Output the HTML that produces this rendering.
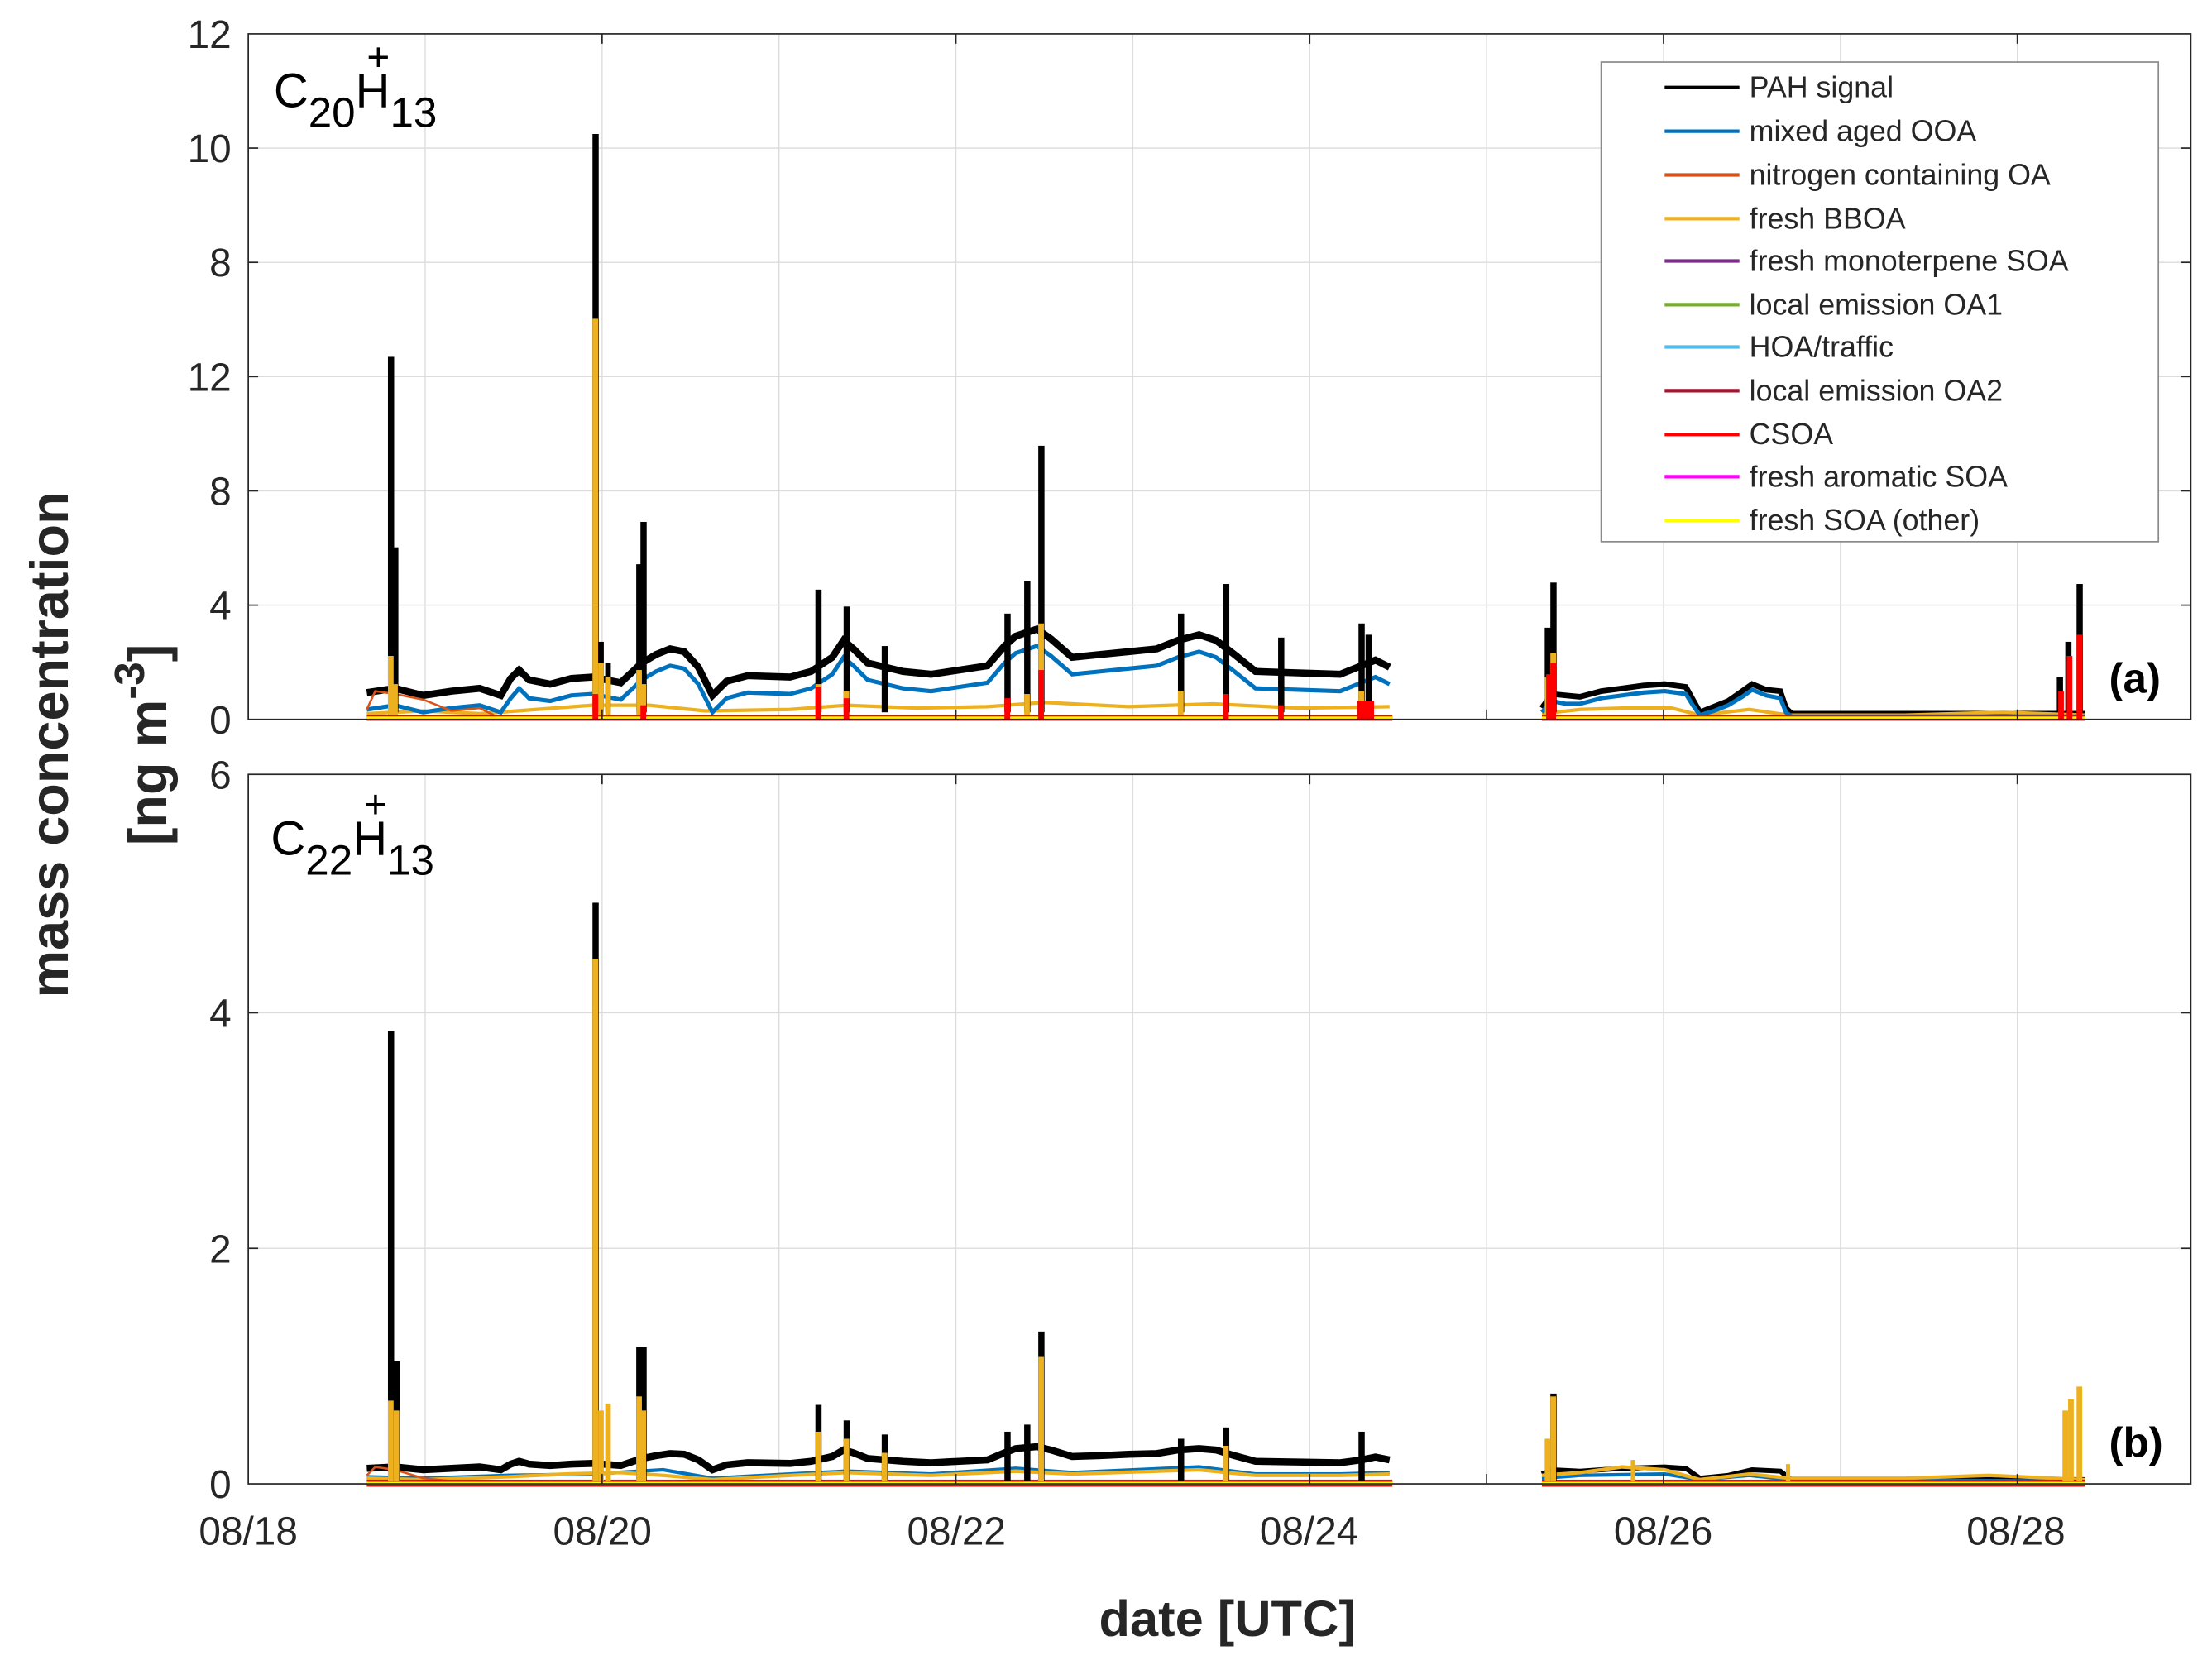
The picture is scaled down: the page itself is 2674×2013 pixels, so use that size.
<!DOCTYPE html>
<html><head><meta charset="utf-8"><style>
html,body{margin:0;padding:0;background:#fff;}
svg{display:block;font-family:"Liberation Sans",Arial,sans-serif;}
</style></head><body>
<svg width="2674" height="2013" viewBox="0 0 1568 1180.4" xmlns="http://www.w3.org/2000/svg">
<rect width="1568" height="1180.4" fill="#fff"/>
<g stroke="#dcdcdc" stroke-width="0.8">
<line x1="301.4" y1="24" x2="301.4" y2="510"/><line x1="426.8" y1="24" x2="426.8" y2="510"/><line x1="552.2" y1="24" x2="552.2" y2="510"/><line x1="677.6" y1="24" x2="677.6" y2="510"/><line x1="803" y1="24" x2="803" y2="510"/><line x1="928.4" y1="24" x2="928.4" y2="510"/><line x1="1053.8" y1="24" x2="1053.8" y2="510"/><line x1="1179.2" y1="24" x2="1179.2" y2="510"/><line x1="1304.6" y1="24" x2="1304.6" y2="510"/><line x1="1430" y1="24" x2="1430" y2="510"/>
<line x1="301.4" y1="549" x2="301.4" y2="1052"/><line x1="426.8" y1="549" x2="426.8" y2="1052"/><line x1="552.2" y1="549" x2="552.2" y2="1052"/><line x1="677.6" y1="549" x2="677.6" y2="1052"/><line x1="803" y1="549" x2="803" y2="1052"/><line x1="928.4" y1="549" x2="928.4" y2="1052"/><line x1="1053.8" y1="549" x2="1053.8" y2="1052"/><line x1="1179.2" y1="549" x2="1179.2" y2="1052"/><line x1="1304.6" y1="549" x2="1304.6" y2="1052"/><line x1="1430" y1="549" x2="1430" y2="1052"/>
<line x1="176" y1="105" x2="1553" y2="105"/><line x1="176" y1="186" x2="1553" y2="186"/><line x1="176" y1="267" x2="1553" y2="267"/><line x1="176" y1="348" x2="1553" y2="348"/><line x1="176" y1="429" x2="1553" y2="429"/>
<line x1="176" y1="718" x2="1553" y2="718"/><line x1="176" y1="885" x2="1553" y2="885"/>
</g>
<!-- data top -->
<g fill="none" stroke-linejoin="miter">
<path d="M260,491 L280,488 L300,493 L320,490 L340,488 L355,493 L362,481 L368,475 L375,482 L390,485 L405,481 L420,480 L440,484 L455,470 L465,464 L475,460 L485,462 L495,473 L505,493 L515,483 L530,479 L560,480 L575,476 L590,466 L598,454 L605,460 L615,470 L640,476 L660,478 L680,475 L700,472 L712,458 L720,451 L735,446 L745,453 L760,466 L780,464 L800,462 L820,460 L835,454 L850,450 L862,454 L875,464 L890,476 L920,477 L950,478 L965,472 L975,468 L985,473" stroke="#000" stroke-width="5"/>
<path d="M1093,502 L1100,492 L1120,494 L1135,490 L1150,488 L1165,486 L1180,485 L1195,487 L1200,496 L1205,505 L1225,497 L1235,490 L1242,485 L1252,489 L1262,490 L1266,502 L1270,506 L1478,506" stroke="#000" stroke-width="4"/>
<path d="M260,506 L300,504 L340,506 L380,503 L420,500 L460,500 L500,504 L560,503 L600,500 L650,502 L700,501 L740,498 L800,501 L860,499 L920,502 L985,501" stroke="#EDB120" stroke-width="2.5"/>
<path d="M1093,506 L1120,503 L1150,502 L1185,502 L1205,507 L1240,503 L1268,507 L1350,507 L1420,505 L1478,507" stroke="#EDB120" stroke-width="2.5"/>
<path d="M260,503 L280,500 L300,505 L320,502 L340,500 L355,505 L362,495 L368,488 L375,495 L390,497 L405,493 L420,492 L440,496 L455,482 L465,476 L475,472 L485,474 L495,485 L505,505 L515,495 L530,491 L560,492 L575,488 L590,478 L598,466 L605,472 L615,482 L640,488 L660,490 L680,487 L700,484 L712,470 L720,463 L735,458 L745,465 L760,478 L780,476 L800,474 L820,472 L835,466 L850,462 L862,466 L875,476 L890,488 L920,489 L950,490 L965,484 L975,480 L985,485" stroke="#0072BD" stroke-width="3"/>
<path d="M1093,505 L1100,497 L1110,499 L1120,499 L1135,495 L1150,493 L1165,491 L1180,490 L1195,492 L1200,500 L1205,507 L1215,504 L1225,500 L1235,494 L1242,489 L1252,493 L1262,495 L1266,505 L1270,508 L1478,508" stroke="#0072BD" stroke-width="3"/>
<path d="M260,503 L266,490 L280,492 L300,496 L320,504 L340,502 L350,507" stroke="#D95319" stroke-width="1.5"/>
</g>
<rect x="260" y="507" width="727" height="4" fill="#FF0000"/><rect x="1093" y="507" width="385" height="4" fill="#FF0000"/>
<rect x="260" y="508" width="727" height="2" fill="#FFFF00"/><rect x="1093" y="508" width="385" height="2" fill="#FFFF00"/>
<!-- top spikes black -->
<g fill="#000">
<rect x="275" y="253" width="4.4" height="252"/><rect x="278" y="388" width="4.4" height="117"/>
<rect x="420" y="95" width="4.4" height="410"/><rect x="424" y="455" width="4" height="50"/><rect x="429" y="470" width="4" height="35"/>
<rect x="451" y="400" width="4.4" height="105"/><rect x="454" y="370" width="4.4" height="135"/>
<rect x="578" y="418" width="4.4" height="87"/><rect x="598" y="430" width="4.4" height="75"/><rect x="625" y="458" width="4.4" height="47"/>
<rect x="712" y="435" width="4.4" height="70"/><rect x="726" y="412" width="4.4" height="93"/><rect x="736" y="316" width="4.4" height="189"/>
<rect x="835" y="435" width="4.4" height="70"/><rect x="867" y="414" width="4.4" height="91"/><rect x="906" y="452" width="4.4" height="53"/>
<rect x="963" y="442" width="4.4" height="63"/><rect x="968" y="450" width="4.4" height="55"/>
<rect x="1095" y="445" width="4.4" height="60"/><rect x="1099" y="413" width="4.4" height="92"/>
<rect x="1458" y="480" width="4.4" height="25"/><rect x="1464" y="455" width="4.4" height="50"/><rect x="1472" y="414" width="4.4" height="91"/>
</g>
<g fill="#EDB120">
<rect x="275" y="465" width="4" height="42"/><rect x="278" y="485" width="4" height="22"/>
<rect x="420" y="226" width="4" height="281"/><rect x="424" y="470" width="4" height="37"/><rect x="429" y="480" width="4" height="27"/>
<rect x="451" y="475" width="4" height="32"/><rect x="454" y="485" width="4" height="22"/>
<rect x="578" y="485" width="4" height="22"/><rect x="598" y="490" width="4" height="17"/>
<rect x="736" y="442" width="4" height="65"/><rect x="726" y="492" width="4" height="15"/>
<rect x="835" y="490" width="4" height="17"/><rect x="963" y="490" width="4" height="17"/>
<rect x="1099" y="463" width="4" height="44"/><rect x="1095" y="480" width="4" height="27"/>
</g>
<g fill="#FF0000">
<rect x="420" y="492" width="4" height="18"/><rect x="454" y="500" width="4" height="10"/><rect x="578" y="487" width="4" height="23"/><rect x="598" y="495" width="4" height="15"/>
<rect x="712" y="495" width="4" height="15"/><rect x="736" y="475" width="4" height="35"/><rect x="867" y="492" width="4" height="18"/><rect x="906" y="500" width="4" height="10"/>
<rect x="962" y="497" width="12" height="13"/><rect x="1096" y="478" width="4" height="32"/><rect x="1099" y="470" width="4" height="40"/>
<rect x="1459" y="490" width="4" height="20"/><rect x="1465" y="465" width="4" height="45"/><rect x="1472" y="450" width="4" height="60"/>
</g>
<!-- bottom data -->
<g fill="none">
<path d="M260,1041 L280,1040 L300,1042 L320,1041 L340,1040 L355,1042 L362,1038 L368,1036 L375,1038 L390,1039 L405,1038 L420,1037.5 L440,1039 L455,1034 L465,1032 L475,1030.5 L485,1031 L495,1035 L505,1042 L515,1038.5 L530,1037 L560,1037.5 L575,1036 L590,1032.6 L598,1028 L605,1030 L615,1034 L640,1036 L660,1037 L680,1036 L700,1035 L712,1030 L720,1027 L735,1025.6 L745,1028 L760,1032.6 L780,1032 L800,1031 L820,1030.5 L835,1028 L850,1027 L862,1028 L875,1032 L890,1036 L920,1036.5 L950,1037 L965,1035 L975,1033 L985,1035" stroke="#000" stroke-width="5"/>
<path d="M1093,1045 L1100,1042 L1120,1043 L1150,1041 L1180,1040 L1195,1041 L1205,1048 L1225,1046 L1242,1042 L1262,1043 L1270,1049 L1478,1049" stroke="#000" stroke-width="3.5"/>
<path d="M260,1047 L300,1048 L360,1046 L420,1045 L470,1042 L505,1048 L560,1045 L600,1043 L660,1045 L720,1041 L760,1044 L850,1040 L890,1045 L950,1045 L985,1044" stroke="#0072BD" stroke-width="2.5"/>
<path d="M1093,1048 L1120,1046 L1180,1045 L1205,1049 L1240,1046 L1268,1049 L1478,1050" stroke="#0072BD" stroke-width="2.5"/>
<path d="M260,1048 L300,1049 L360,1047 L400,1045 L440,1044 L470,1046 L505,1049 L560,1046 L600,1044 L660,1046 L720,1043 L760,1045 L850,1042 L890,1046 L950,1046 L985,1045" stroke="#EDB120" stroke-width="2.5"/>
<path d="M1093,1046 L1120,1044 L1150,1040 L1180,1042 L1205,1049 L1240,1045 L1268,1048 L1350,1048 L1410,1046 L1478,1049" stroke="#EDB120" stroke-width="2.5"/>
<path d="M260,1046 L266,1040 L280,1042 L300,1048 L320,1050" stroke="#D95319" stroke-width="1.5"/>
</g>
<rect x="260" y="1049" width="727" height="5" fill="#FF0000"/><rect x="1093" y="1049" width="385" height="5" fill="#FF0000"/>
<rect x="260" y="1050.5" width="727" height="2" fill="#FFFF00"/><rect x="1093" y="1050.5" width="385" height="2" fill="#FFFF00"/>
<g fill="#000">
<rect x="275" y="731" width="4.4" height="319"/><rect x="279" y="965" width="4.4" height="85"/>
<rect x="420" y="640" width="4.4" height="410"/><rect x="451" y="955" width="4.4" height="95"/><rect x="454" y="955" width="4.4" height="95"/>
<rect x="578" y="996" width="4.4" height="54"/><rect x="598" y="1007" width="4.4" height="43"/><rect x="625" y="1017" width="4.4" height="33"/>
<rect x="712" y="1015" width="4.4" height="35"/><rect x="726" y="1010" width="4.4" height="40"/><rect x="736" y="944" width="4.4" height="106"/>
<rect x="835" y="1020" width="4.4" height="30"/><rect x="867" y="1012" width="4.4" height="38"/><rect x="963" y="1015" width="4.4" height="35"/>
<rect x="1099" y="988" width="4.4" height="62"/>
</g>
<g fill="#EDB120">
<rect x="275" y="993" width="4" height="57"/><rect x="279" y="1000" width="4" height="50"/>
<rect x="420" y="680" width="4" height="370"/><rect x="424" y="1000" width="4" height="50"/><rect x="429" y="995" width="4" height="55"/>
<rect x="451" y="990" width="4" height="60"/><rect x="454" y="1000" width="4" height="50"/><rect x="578" y="1015" width="4" height="35"/>
<rect x="598" y="1020" width="4" height="30"/><rect x="625" y="1030" width="4" height="20"/><rect x="736" y="962" width="4" height="88"/>
<rect x="867" y="1025" width="4" height="25"/><rect x="1095" y="1020" width="4" height="30"/><rect x="1099" y="990" width="4" height="60"/>
<rect x="1156" y="1035" width="3" height="15"/><rect x="1266" y="1038" width="3" height="12"/>
<rect x="1462" y="1000" width="4" height="50"/><rect x="1466" y="992" width="4" height="58"/><rect x="1472" y="983" width="4" height="67"/>
</g>
<!-- axes -->
<rect x="176" y="24" width="1377" height="486" fill="none" stroke="#262626" stroke-width="1"/>
<rect x="176" y="549" width="1377" height="503" fill="none" stroke="#262626" stroke-width="1"/>
<g stroke="#262626" stroke-width="1">
<line x1="426.8" y1="24" x2="426.8" y2="31"/><line x1="677.6" y1="24" x2="677.6" y2="31"/><line x1="928.4" y1="24" x2="928.4" y2="31"/><line x1="1179.2" y1="24" x2="1179.2" y2="31"/><line x1="1430" y1="24" x2="1430" y2="31"/>
<line x1="426.8" y1="510" x2="426.8" y2="503"/><line x1="677.6" y1="510" x2="677.6" y2="503"/><line x1="928.4" y1="510" x2="928.4" y2="503"/><line x1="1179.2" y1="510" x2="1179.2" y2="503"/><line x1="1430" y1="510" x2="1430" y2="503"/>
<line x1="426.8" y1="549" x2="426.8" y2="556"/><line x1="677.6" y1="549" x2="677.6" y2="556"/><line x1="928.4" y1="549" x2="928.4" y2="556"/><line x1="1179.2" y1="549" x2="1179.2" y2="556"/><line x1="1430" y1="549" x2="1430" y2="556"/>
<line x1="426.8" y1="1052" x2="426.8" y2="1045"/><line x1="677.6" y1="1052" x2="677.6" y2="1045"/><line x1="928.4" y1="1052" x2="928.4" y2="1045"/><line x1="1179.2" y1="1052" x2="1179.2" y2="1045"/><line x1="1430" y1="1052" x2="1430" y2="1045"/>
<line x1="1053.8" y1="510" x2="1053.8" y2="503"/><line x1="1053.8" y1="1052" x2="1053.8" y2="1045"/>
<line x1="1553" y1="105" x2="1546" y2="105"/><line x1="1553" y1="186" x2="1546" y2="186"/><line x1="1553" y1="267" x2="1546" y2="267"/><line x1="1553" y1="348" x2="1546" y2="348"/><line x1="1553" y1="429" x2="1546" y2="429"/>
<line x1="176" y1="105" x2="183" y2="105"/><line x1="176" y1="186" x2="183" y2="186"/><line x1="176" y1="267" x2="183" y2="267"/><line x1="176" y1="348" x2="183" y2="348"/><line x1="176" y1="429" x2="183" y2="429"/>
<line x1="176" y1="718" x2="183" y2="718"/><line x1="176" y1="885" x2="183" y2="885"/><line x1="1553" y1="718" x2="1546" y2="718"/><line x1="1553" y1="885" x2="1546" y2="885"/>
</g>
<g fill="#262626" font-size="28" text-anchor="end">
<text x="164" y="34">12</text><text x="164" y="115">10</text><text x="164" y="196">8</text>
<text x="164" y="277">12</text><text x="164" y="358">8</text><text x="164" y="439">4</text><text x="164" y="520">0</text>
<text x="164" y="559">6</text><text x="164" y="728">4</text><text x="164" y="895">2</text><text x="164" y="1062">0</text>
</g>
<g fill="#262626" font-size="28" text-anchor="middle">
<text x="176" y="1095">08/18</text><text x="427" y="1095">08/20</text><text x="678" y="1095">08/22</text>
<text x="928" y="1095">08/24</text><text x="1179" y="1095">08/26</text><text x="1429" y="1095">08/28</text>
</g>
<text x="870" y="1160" text-anchor="middle" font-size="36" font-weight="bold" fill="#262626">date [UTC]</text>
<g transform="translate(48,528) rotate(-90)" fill="#262626" font-weight="bold" font-size="38" text-anchor="middle">
<text x="0" y="0">mass concentration</text>
<text x="0" y="70">[ng m<tspan dy="-16" font-size="30">-3</tspan><tspan dy="16">]</tspan></text>
</g>
<text x="194" y="76" font-size="34" fill="#000">C<tspan dy="14" font-size="30">20</tspan><tspan dy="-14">H</tspan><tspan dy="14" font-size="30">13</tspan></text>
<text x="260" y="50" font-size="28" fill="#000">+</text>
<text x="192" y="606" font-size="34" fill="#000">C<tspan dy="14" font-size="30">22</tspan><tspan dy="-14">H</tspan><tspan dy="14" font-size="30">13</tspan></text>
<text x="258" y="580" font-size="28" fill="#000">+</text>
<text x="1495" y="491" font-size="30" font-weight="bold" fill="#000">(a)</text>
<text x="1495" y="1033" font-size="30" font-weight="bold" fill="#000">(b)</text>
<!-- legend -->
<rect x="1135" y="44" width="395" height="340" fill="#fff" stroke="#8a8a8a" stroke-width="1"/>
<g stroke-width="2.5">
<line x1="1180" y1="62" x2="1233" y2="62" stroke="#000"/>
<line x1="1180" y1="93" x2="1233" y2="93" stroke="#0072BD"/>
<line x1="1180" y1="124" x2="1233" y2="124" stroke="#D95319"/>
<line x1="1180" y1="155" x2="1233" y2="155" stroke="#EDB120"/>
<line x1="1180" y1="185" x2="1233" y2="185" stroke="#7E2F8E"/>
<line x1="1180" y1="216" x2="1233" y2="216" stroke="#77AC30"/>
<line x1="1180" y1="246" x2="1233" y2="246" stroke="#4DBEEE"/>
<line x1="1180" y1="277" x2="1233" y2="277" stroke="#A2142F"/>
<line x1="1180" y1="308" x2="1233" y2="308" stroke="#FF0000"/>
<line x1="1180" y1="338" x2="1233" y2="338" stroke="#FF00FF"/>
<line x1="1180" y1="369" x2="1233" y2="369" stroke="#FFFF00"/>
</g>
<g font-size="21" fill="#262626">
<text x="1240" y="69">PAH signal</text>
<text x="1240" y="100">mixed aged OOA</text>
<text x="1240" y="131">nitrogen containing OA</text>
<text x="1240" y="162">fresh BBOA</text>
<text x="1240" y="192">fresh monoterpene SOA</text>
<text x="1240" y="223">local emission OA1</text>
<text x="1240" y="253">HOA/traffic</text>
<text x="1240" y="284">local emission OA2</text>
<text x="1240" y="315">CSOA</text>
<text x="1240" y="345">fresh aromatic SOA</text>
<text x="1240" y="376">fresh SOA (other)</text>
</g>
</svg>
</body></html>
